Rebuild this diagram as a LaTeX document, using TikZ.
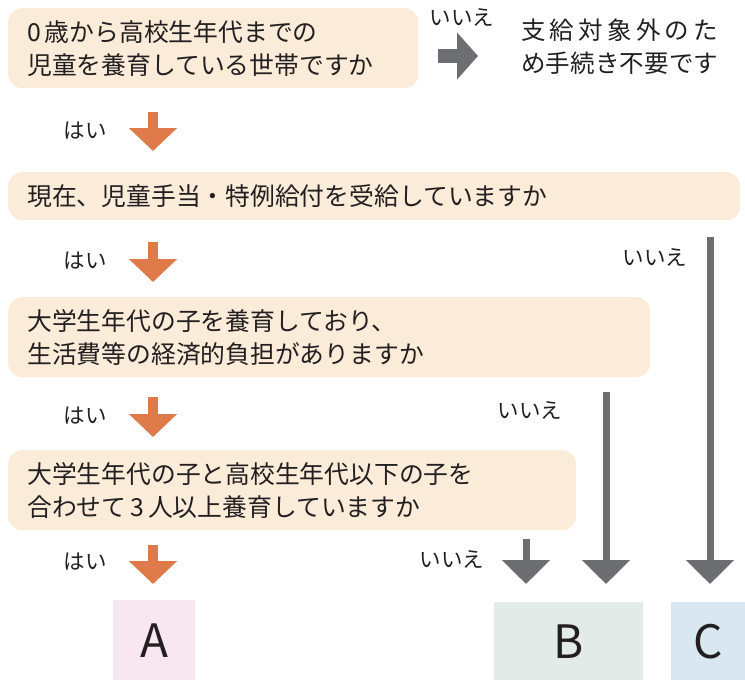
\documentclass[tikz,border=0pt]{standalone}
\usepackage{fontspec}
\setmainfont{Noto Sans CJK JP}
\usetikzlibrary{arrows.meta}
\definecolor{boxfill}{RGB}{251,236,218}
\definecolor{afill}{RGB}{248,231,240}
\definecolor{bfill}{RGB}{226,235,231}
\definecolor{cfill}{RGB}{217,232,240}
\definecolor{arrgray}{RGB}{109,110,113}
\definecolor{arrorange}{RGB}{223,122,74}
\definecolor{txt}{RGB}{35,31,32}
\tikzset{
  qbox/.style={fill=boxfill, rounded corners=14pt, anchor=north west, inner xsep=19pt, inner ysep=0pt,
    align=left, text=txt, font=\fontsize{24.8}{33}\selectfont},
  ansbox/.style={anchor=north west, inner sep=0pt, text=txt, font=\fontsize{46}{50}\selectfont},
  lbl/.style={text=txt, inner sep=0pt, font=\fontsize{21.5}{24}\selectfont},
  orarrow/.style={draw=arrorange, line width=10pt, -{Triangle[width=47pt,length=23pt]}, arrorange},
  grarrow/.style={draw=arrgray, line width=7pt, -{Triangle[width=47pt,length=24pt]}, arrgray},
  grbig/.style={draw=arrgray, line width=14pt, -{Triangle[width=46pt,length=21pt]}, arrgray},
}
\begin{document}
\begin{tikzpicture}[x=1pt,y=-1pt]
\useasboundingbox (0,0) rectangle (745,680);
% question boxes
\node[qbox, text width=372pt, minimum height=80pt] (q1) at (8,8) {0\hspace{4pt}歳から高校生年代までの\\児童を養育している世帯ですか};
\node[qbox, text width=694pt, minimum height=48pt] (q2) at (8,172) {現在、児童手当・特例給付を受給していますか};
\node[qbox, text width=604pt, minimum height=80pt] (q3) at (8,297) {大学生年代の子を養育しており、\\生活費等の経済的負担がありますか};
\node[qbox, text width=530pt, minimum height=80pt] (q4) at (8,450) {大学生年代の子と高校生年代以下の子を\\合わせて\hspace{4pt}3\hspace{4pt}人以上養育していますか};
% not applicable text
\node[anchor=west, inner sep=0pt, text=txt, font=\fontsize{24.5}{33}\selectfont, align=left] (na) at (521,47)
  {\makebox[197pt][l]{支\hfill 給\hfill 対\hfill 象\hfill 外\hfill の\hfill た}\\
   \makebox[197pt][l]{め\hfill 手\hfill 続\hfill き\hfill 不\hfill 要\hfill で\hfill す}};
% result boxes
\node[ansbox, fill=afill, minimum width=82pt, minimum height=80pt] (A) at (113,600) {A};
\node[ansbox, fill=bfill, minimum width=149pt, minimum height=78pt] (B) at (494,602) {B};
\node[ansbox, fill=cfill, minimum width=74pt, minimum height=78pt] (C) at (671,602) {C};
% coordinates for connectors
\coordinate (h0) at (438,56);   \coordinate (h1) at (478,56);
\coordinate (o1a) at (153,112); \coordinate (o1b) at (153,151);
\coordinate (o2a) at (153,242); \coordinate (o2b) at (153,282);
\coordinate (o3a) at (153,397); \coordinate (o3b) at (153,437);
\coordinate (o4a) at (153,545); \coordinate (o4b) at (153,584);
\coordinate (ca) at (710,237);  \coordinate (cb) at (710,584);
\coordinate (b2a) at (606,392); \coordinate (b2b) at (606,584);
\coordinate (b1a) at (526,539); \coordinate (b1b) at (526,584);
% connectors
\draw[grbig] (h0) -- (h1);
\draw[orarrow] (o1a) -- (o1b);
\draw[orarrow] (o2a) -- (o2b);
\draw[orarrow] (o3a) -- (o3b);
\draw[orarrow] (o4a) -- (o4b);
\draw[grarrow] (ca) -- (cb);
\draw[grarrow] (b2a) -- (b2b);
\draw[grarrow] (b1a) -- (b1b);
% labels
\node[lbl] (n0) at (462,17) {いいえ};
\node[lbl] (y1) at (85,131) {はい};
\node[lbl] (y2) at (85,261) {はい};
\node[lbl] (y3) at (85,416) {はい};
\node[lbl] (y4) at (85,562) {はい};
\node[lbl] (nc) at (655,257) {いいえ};
\node[lbl] (nb2) at (530,410) {いいえ};
\node[lbl] (nb1) at (452,559) {いいえ};
\end{tikzpicture}
\end{document}
